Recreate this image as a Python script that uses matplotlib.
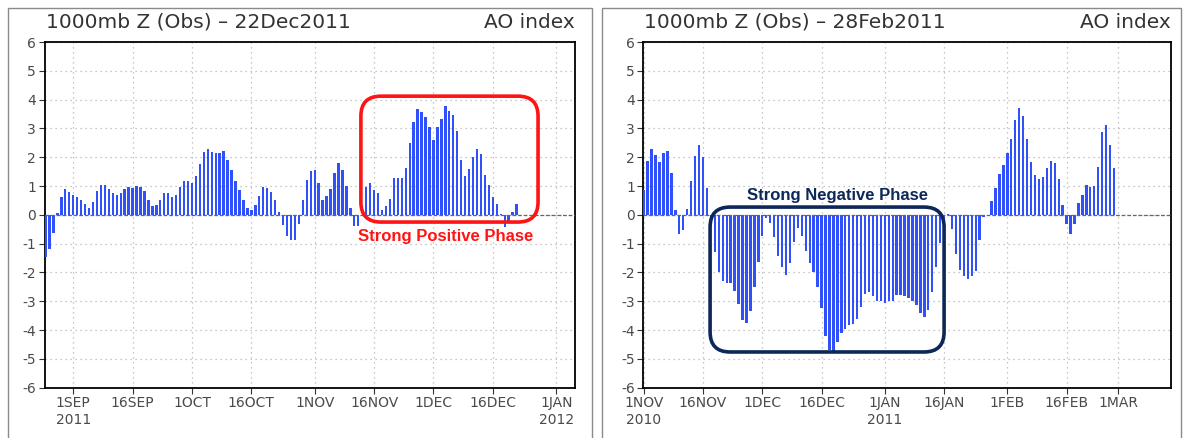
import matplotlib
matplotlib.use("Agg")
import matplotlib.pyplot as plt
import matplotlib.dates as md
import numpy as np
import pandas as pd
from matplotlib.patches import FancyBboxPatch, Rectangle

# ---- data (daily AO index) ----
left_start = "2011-08-25"
left_values = [
    -1.46, -1.20, -0.62, 0.05, 0.62, 0.88, 0.81, 0.69, 0.62, 0.53,
    0.37, 0.25, 0.45, 0.82, 1.02, 1.02, 0.88, 0.76, 0.69, 0.76,
    0.88, 0.97, 0.92, 0.99, 0.97, 0.82, 0.53, 0.32, 0.35, 0.53,
    0.76, 0.76, 0.62, 0.69, 0.97, 1.16, 1.16, 1.09, 1.34, 1.78,
    2.17, 2.29, 2.17, 2.13, 2.13, 2.20, 1.92, 1.57, 1.16, 0.86,
    0.53, 0.25, 0.16, 0.35, 0.65, 0.95, 0.92, 0.81, 0.51, 0.09,
    -0.35, -0.72, -0.88, -0.88, -0.32, 0.51, 1.20, 1.53, 1.57, 1.09,
    0.51, 0.65, 0.90, 1.46, 1.80, 1.55, 0.99, 0.23, -0.37, -0.37,
    -0.05, 0.97, 1.09, 0.86, 0.76, 0.18, 0.30, 0.55, 1.27, 1.27,
    1.27, 1.62, 2.50, 3.24, 3.68, 3.58, 3.38, 3.05, 2.61, 3.05,
    3.31, 3.77, 3.61, 3.47, 2.91, 1.90, 1.34, 1.60, 2.01, 2.27,
    2.10, 1.39, 1.04, 0.62, 0.37, 0.02, -0.42, -0.25, 0.09, 0.39,
]
right_start = "2010-11-01"
right_values = [
    0.85, 1.88, 2.28, 2.09, 1.84, 2.14, 2.21, 1.47, 0.16, -0.65,
    -0.53, 0.21, 1.16, 2.05, 2.42, 2.00, 0.93, -0.10, -1.30, -2.00,
    -2.28, -2.37, -2.35, -2.65, -3.09, -3.65, -3.74, -3.33, -2.49, -1.63,
    -0.72, -0.12, -0.28, -0.77, -1.42, -1.81, -2.09, -1.67, -0.95, -0.47,
    -0.72, -1.26, -1.67, -1.98, -2.51, -3.23, -4.19, -4.70, -4.79, -4.40,
    -4.09, -3.95, -3.81, -3.79, -3.63, -3.19, -2.74, -2.67, -2.81, -3.00,
    -3.00, -3.05, -3.00, -3.00, -2.77, -2.77, -2.81, -2.90, -2.98, -3.12,
    -3.40, -3.53, -3.30, -2.67, -1.81, -0.98, -0.16, 0.02, -0.49, -1.35,
    -1.91, -2.14, -2.23, -2.12, -1.95, -0.86, -0.09, -0.02, 0.47, 0.93,
    1.42, 1.72, 2.14, 2.65, 3.30, 3.70, 3.42, 2.65, 1.84, 1.37,
    1.23, 1.30, 1.63, 1.88, 1.79, 1.23, 0.35, -0.33, -0.67, -0.33,
    0.42, 0.70, 1.02, 0.98, 1.00, 1.67, 2.86, 3.12, 2.42, 1.63,
]

left_title = "1000mb Z (Obs) \u2013 22Dec2011"
right_title = "1000mb Z (Obs) \u2013 28Feb2011"
left_ticks = ["2011-09-01", "2011-09-16", "2011-10-01", "2011-10-16", "2011-11-01",
              "2011-11-16", "2011-12-01", "2011-12-16", "2012-01-01"]
left_ticklabels = ["1SEP\n2011", "16SEP", "1OCT", "16OCT", "1NOV",
                   "16NOV", "1DEC", "16DEC", "1JAN\n2012"]
right_ticks = ["2010-11-01", "2010-11-16", "2010-12-01", "2010-12-16", "2011-01-01",
               "2011-01-16", "2011-02-01", "2011-02-16", "2011-03-01"]
right_ticklabels = ["1NOV\n2010", "16NOV", "1DEC", "16DEC", "1JAN\n2011",
                    "16JAN", "1FEB", "16FEB", "1MAR"]

W, H = 1184, 438
fig = plt.figure(figsize=(W / 100, H / 100), dpi=100)


def px_rect(x0, y0, x1, y1):
    # pixel box (from top-left) -> figure fraction [l, b, w, h]
    return [x0 / W, 1 - y1 / H, (x1 - x0) / W, (y1 - y0) / H]


# gray frames round each panel
for x0, x1 in [(8, 592), (602, 1181)]:
    l, b, w, h = px_rect(x0, 8, x1, 460)
    fig.add_artist(Rectangle((l, b), w, h, transform=fig.transFigure,
                             fill=False, edgecolor="#8a8a8a", lw=1.0))

bar_color = "#3050fa"
text_color = "#4a4a4a"


def draw_panel(rect, start, values, xlim, ticks, ticklabels, title):
    ax = fig.add_axes(rect)
    dates = pd.date_range(start, periods=len(values), freq="D")
    ax.bar(dates, values, width=0.6, color=bar_color, linewidth=0, zorder=3)
    ax.axhline(0, color="#666666", lw=0.9, ls=(0, (3, 1.5)), zorder=4)
    ax.set_xlim(pd.Timestamp(xlim[0]), pd.Timestamp(xlim[1]))
    ax.set_ylim(-6, 6)
    ax.set_yticks(range(-6, 7))
    ax.set_yticklabels([str(v) for v in range(-6, 7)])
    ax.set_xticks(pd.to_datetime(ticks))
    ax.set_xticklabels(ticklabels, linespacing=1.25)
    ax.grid(True, color="#b5b5b5", ls=(0, (1, 3)), lw=0.9, zorder=0)
    ax.tick_params(axis="both", colors="#333333", labelcolor=text_color,
                   labelsize=10, length=4, width=0.8, direction="out", pad=2)
    for s in ax.spines.values():
        s.set_color("black")
        s.set_linewidth(1.3)
    ax.text(0.002, 1.03, title, transform=ax.transAxes, ha="left", va="bottom",
            fontsize=14.5, color="#333333")
    ax.text(1.0, 1.03, "AO index", transform=ax.transAxes, ha="right", va="bottom",
            fontsize=14.5, color="#333333")
    return ax


ax1 = draw_panel(px_rect(44.5, 42, 575, 387.7), left_start, left_values,
                 ("2011-08-24 18:00", "2012-01-05 18:00"),
                 left_ticks, left_ticklabels, left_title)
ax2 = draw_panel(px_rect(643.4, 42, 1171, 387.7), right_start, right_values,
                 ("2010-10-31 22:00", "2011-03-14 10:00"),
                 right_ticks, right_ticklabels, right_title)


def phase_box(ax, x0, x1, y0, y1, color, lw):
    # rounded box given in data units, drawn in inches so the corners stay round
    fig.canvas.draw()
    p0 = ax.transData.transform((md.date2num(pd.Timestamp(x0)), y0))
    p1 = ax.transData.transform((md.date2num(pd.Timestamp(x1)), y1))
    p0 = p0 / fig.dpi
    p1 = p1 / fig.dpi
    box = FancyBboxPatch((p0[0], p0[1]), p1[0] - p0[0], p1[1] - p0[1],
                         boxstyle="round,pad=0,rounding_size=0.2",
                         transform=fig.dpi_scale_trans, fill=False,
                         edgecolor=color, lw=lw, zorder=10)
    fig.add_artist(box)


red = "#ff1414"
navy = "#0c2758"
phase_box(ax1, "2011-11-12 16:00", "2011-12-27 10:00", -0.25, 4.12, red, 2.6)
ax1.text(pd.Timestamp("2011-12-04 04:00"), -0.76, "Strong Positive Phase", color=red,
         fontsize=12, fontweight="bold", family="Liberation Sans",
         ha="center", va="center", zorder=11)

phase_box(ax2, "2010-11-17 19:00", "2011-01-16", -4.76, 0.27, navy, 2.6)
ax2.text(pd.Timestamp("2010-12-19 22:00"), 0.68, "Strong Negative Phase", color=navy,
         fontsize=12, fontweight="bold", family="Liberation Sans",
         ha="center", va="center", zorder=11)

fig.savefig("out.png", dpi=100)
